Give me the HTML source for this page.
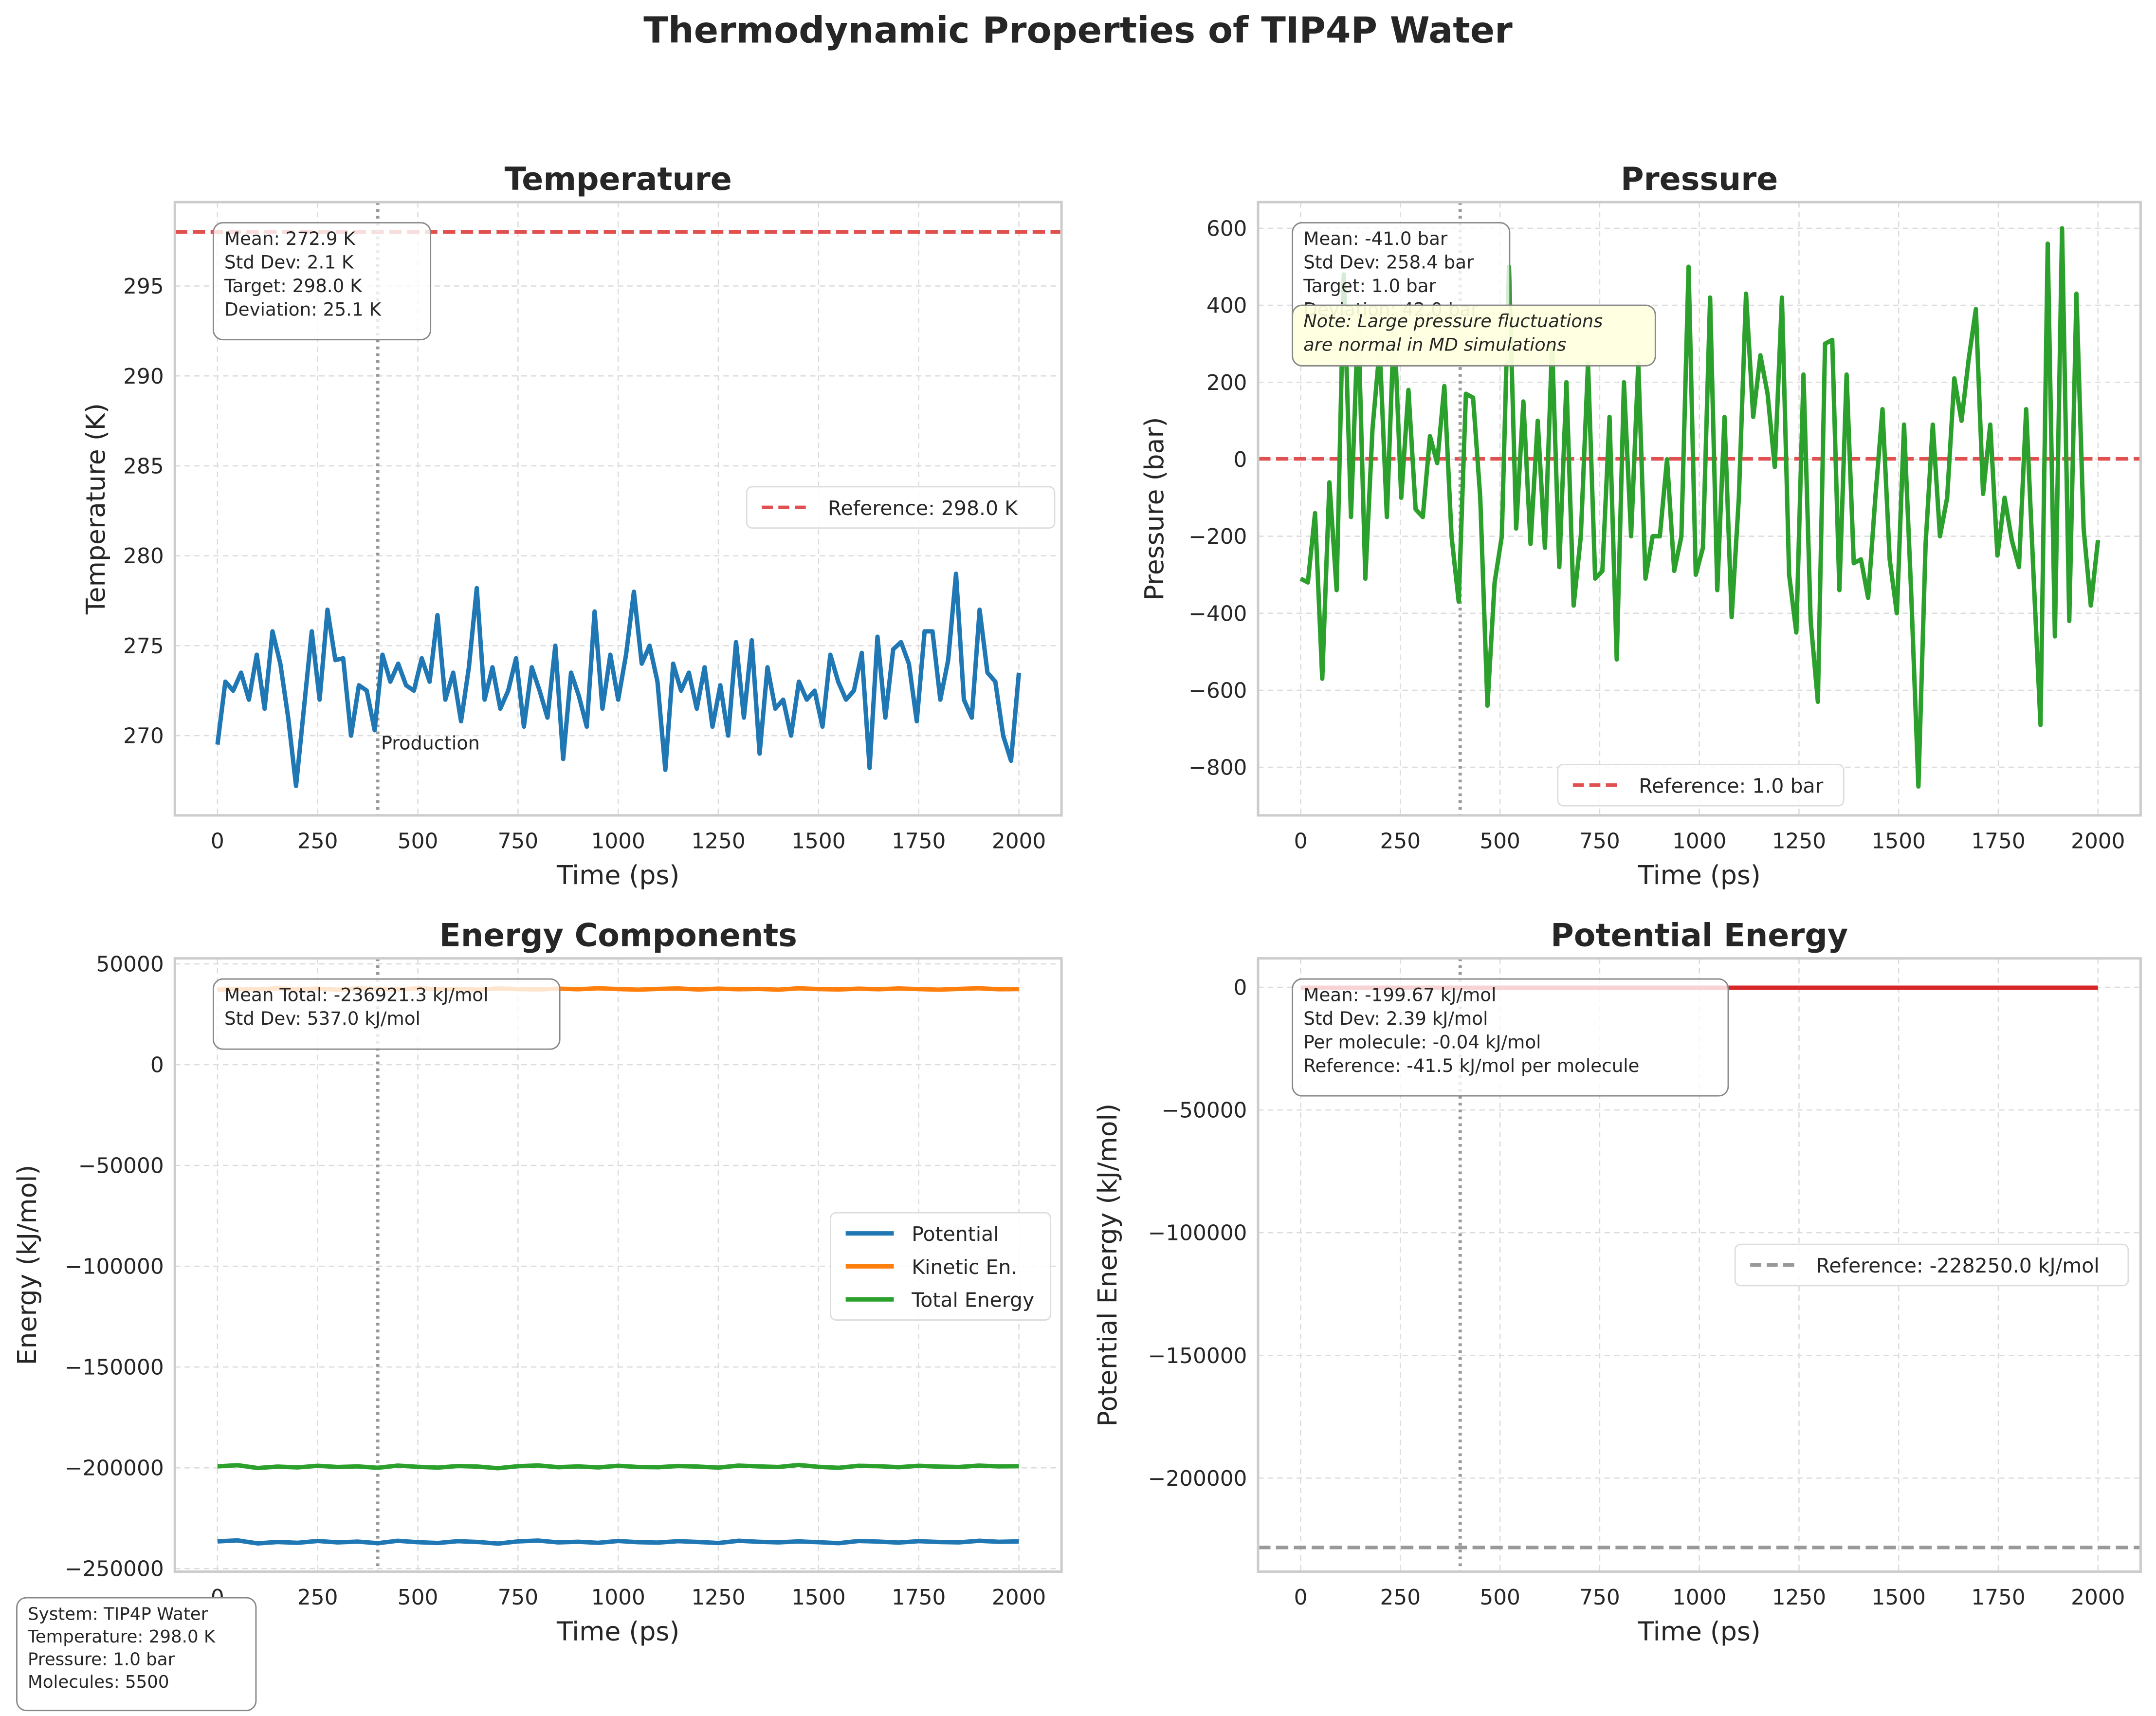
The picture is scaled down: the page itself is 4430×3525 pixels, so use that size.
<!DOCTYPE html>
<html><head><meta charset="utf-8"><style>
html,body{margin:0;padding:0;background:#fff}
svg{display:block;font-family:"DejaVu Sans","Liberation Sans",sans-serif}
</style></head><body>
<svg id="fig" width="4430" height="3525" viewBox="0 0 1568 1248" xmlns="http://www.w3.org/2000/svg">
<rect width="1568" height="1248" fill="#fff"/>
<text x="784" y="31" text-anchor="middle" font-size="26.3" font-weight="bold" fill="#262626">Thermodynamic Properties of TIP4P Water</text>
<g id="root"></g>
</svg>
<script>
// ---- data ----
const timeRange = [0, 2000];
const xTicks = [0,250,500,750,1000,1250,1500,1750,2000];
const tempValues = [269.5,273,272.5,273.5,272,274.5,271.5,275.8,274,271,267.2,271.5,275.8,272,277,274.2,274.3,270,272.8,272.5,270.3,274.5,273,274,272.8,272.5,274.3,273,276.7,272,273.5,270.8,273.8,278.2,272,273.8,271.5,272.5,274.3,270.5,273.8,272.5,271,275,268.7,273.5,272.2,270.5,276.9,271.5,274.5,272,274.5,278,274,275,273,268.1,274,272.5,273.5,271.5,273.8,270.5,272.8,270,275.2,271,275.3,269,273.8,271.5,272,270,273,272,272.5,270.5,274.5,273,272,272.5,274.6,268.2,275.5,271,274.8,275.2,274,270.8,275.8,275.8,272,274.2,279,272,271,277,273.5,273,270,268.6,273.5];
const tempTicks = [270,275,280,285,290,295];
const tempRef = 298.0;
const pressValues = [-310,-320,-140,-570,-60,-340,480,-150,370,-310,80,290,-150,360,-100,180,-130,-150,60,-10,190,-200,-370,170,160,-100,-640,-320,-200,500,-180,150,-220,100,-230,300,-280,200,-380,-200,250,-310,-290,110,-520,200,-200,250,-310,-200,-200,0,-290,-200,500,-300,-230,420,-340,110,-410,-100,430,110,270,170,-20,420,-300,-450,220,-420,-630,300,310,-340,220,-270,-260,-360,-100,130,-260,-400,90,-350,-850,-220,90,-200,-100,210,100,260,390,-90,90,-250,-100,-210,-280,130,-290,-690,560,-460,600,-420,430,-180,-380,-210];
const pressTicks = [-800,-600,-400,-200,0,200,400,600];
const pressRef = 1.0;
const potentialValues = [-236500,-236000,-237500,-236800,-237200,-236300,-237000,-236600,-237400,-236200,-236900,-237300,-236400,-236800,-237600,-236500,-236100,-237000,-236700,-237200,-236300,-236900,-237100,-236400,-236800,-237300,-236200,-236700,-237000,-236500,-236900,-237400,-236300,-236600,-237100,-236400,-236800,-237000,-236200,-236700,-236500];
const kineticValues = [37200,37600,37300,37900,37400,37700,37200,37800,37500,37300,37900,37400,37600,37200,37800,37500,37300,37700,37400,37900,37500,37200,37600,37800,37300,37700,37400,37600,37200,37900,37500,37300,37700,37400,37800,37500,37200,37600,37900,37400,37500];
const totalValues = [-199300,-198700,-200100,-199400,-199800,-199000,-199600,-199300,-200000,-198900,-199500,-199900,-199100,-199400,-200200,-199200,-198800,-199700,-199300,-199800,-199000,-199600,-199700,-199100,-199400,-199900,-198900,-199300,-199600,-198600,-199500,-200000,-199000,-199200,-199700,-199000,-199400,-199600,-198900,-199300,-199200];
const energyTicks = [-250000,-200000,-150000,-100000,-50000,0,50000];
const peValues = [-199,-200,-198,-201,-199,-200,-197,-202,-199,-200,-198,-201,-199,-200,-199,-198,-201,-200,-199,-200,-198];
const peTicks = [-200000,-150000,-100000,-50000,0];
const peRef = -228250.0;
const productionStart = 400;

const NS="http://www.w3.org/2000/svg";
const root=document.getElementById('root');
function el(tag,attrs,parent,txt){const e=document.createElementNS(NS,tag);for(const k in attrs)e.setAttribute(k,attrs[k]);if(txt!==undefined)e.textContent=txt;(parent||root).appendChild(e);return e;}
function fmt(v){return v<0?'\u2212'+Math.abs(v):String(v);}

function makeAxes(name,box,yDom,yTicks,title,ylabel,ylabX){
  const g=el('g',{});
  
  
  const [L,T,R,B]=box;
  const xs=v=>L+31+(v-timeRange[0])/(timeRange[1]-timeRange[0])*(R-L-62);
  const ys=v=>yDom.py0+(v-yDom.v0)/(yDom.v1-yDom.v0)*(yDom.py1-yDom.py0);
  const bg=el('rect',{x:L,y:T,width:R-L,height:B-T,fill:'#fff'},g);
  
  xTicks.forEach(t=>{const X=xs(t);
    const gl=el('line',{x1:X,x2:X,y1:T,y2:B,stroke:'#dcdcdc','stroke-width':0.9,'stroke-dasharray':'4,3'},g);
    
    const tl=el('text',{x:X,y:B+24,'text-anchor':'middle','font-size':15.5,fill:'#262626'},g,fmt(t));
    });
  yTicks.forEach(t=>{const Y=ys(t);
    const gl=el('line',{x1:L,x2:R,y1:Y,y2:Y,stroke:'#dcdcdc','stroke-width':0.9,'stroke-dasharray':'4,3'},g);
    
    const tl=el('text',{x:L-8,y:Y+5.5,'text-anchor':'end','font-size':15.5,fill:'#262626'},g,fmt(t));
    });
  const tt=el('text',{x:(L+R)/2,y:T-9,'text-anchor':'middle','font-size':23,'font-weight':'bold',fill:'#262626'},g,title);
  
  const xl=el('text',{x:(L+R)/2,y:B+50,'text-anchor':'middle','font-size':19,fill:'#262626'},g,'Time (ps)');
  
  const yl=el('text',{x:ylabX,y:(T+B)/2,'text-anchor':'middle','font-size':19,fill:'#262626',transform:`rotate(-90 ${ylabX} ${(T+B)/2})`},g,ylabel);
  
  return {g,xs,ys,L,T,R,B};
}
function frame(a){const f=el('rect',{x:a.L,y:a.T,width:a.R-a.L,height:a.B-a.T,fill:'none',stroke:'#cccccc','stroke-width':1.8},a.g);
  }
function series(a,vals,color,name,w){
  const n=vals.length;const pts=vals.map((v,i)=>{const t=timeRange[0]+i*(timeRange[1]-timeRange[0])/(n-1);return a.xs(t).toFixed(2)+','+a.ys(v).toFixed(2);}).join(' ');
  const p=el('polyline',{points:pts,fill:'none',stroke:color,'stroke-width':w||3.2,'stroke-linejoin':'round'},a.g);
  }
function hline(a,v,color,name){const l=el('line',{x1:a.L,x2:a.R,y1:a.ys(v),y2:a.ys(v),stroke:color,'stroke-width':2.6,'stroke-dasharray':'9,4'},a.g);
  }
function vprod(a){const X=a.xs(productionStart);const l=el('line',{x1:X,x2:X,y1:a.T,y2:a.B,stroke:'#999','stroke-width':2.4,'stroke-dasharray':'2,3'},a.g);
  }
function box(a,x,y,w,h,lines,opts){opts=opts||{};
  const g=el('g',{},a?a.g:root);
  
  el('rect',{x,y,width:w,height:h,rx:7,fill:opts.fill||'#fff','fill-opacity':opts.op||0.8,stroke:'#888','stroke-width':1},g);
  lines.forEach((s,i)=>{el('text',{x:x+8,y:y+16+i*(opts.lh||17.2),'font-size':opts.fs||13.2,fill:'#262626','font-style':opts.italic?'italic':'normal'},g,s);});
  return g;}
function legend(a,x,y,w,entries){
  const g=el('g',{},a.g);
  el('rect',{x,y,width:w,height:entries.length*24+6,rx:4,fill:'#fff','fill-opacity':0.85,stroke:'#ddd','stroke-width':1},g);
  entries.forEach((e,i)=>{const Y=y+16+i*24;
    const ln=el('line',{x1:x+11,x2:x+46,y1:Y-1,y2:Y-1,stroke:e.c,'stroke-width':e.dash?2.6:3.2,'stroke-dasharray':e.dash?'8,4':'none'},g);
    const t=el('text',{x:x+59,y:Y+4.5,'font-size':14.5,fill:'#262626'},g,e.t);
    });}

// Temperature
const aT=makeAxes('temperature-panel',[127,147,772,593],{v0:270,v1:295,py0:535,py1:208},tempTicks,'Temperature','Temperature (K)',76);
hline(aT,tempRef,'#e05050','temperature-reference-line');
vprod(aT);
series(aT,tempValues,'#1f77b4','temperature-series');
const prod=el('text',{x:277,y:545,'font-size':13.5,fill:'#262626'},aT.g,'Production');

frame(aT);
box(aT,155,162,158,85,['Mean: 272.9 K','Std Dev: 2.1 K','Target: 298.0 K','Deviation: 25.1 K']);
legend(aT,543,354,224,[{c:'#e05050',dash:1,t:'Reference: 298.0 K'}]);

// Pressure
const aP=makeAxes('pressure-panel',[915,147,1557,593],{v0:0,v1:600,py0:334,py1:166},pressTicks,'Pressure','Pressure (bar)',846);
hline(aP,pressRef,'#e05050','pressure-reference-line');
vprod(aP);
series(aP,pressValues,'#2ca02c','pressure-series');
frame(aP);
box(aP,940,162,158,104,['Mean: -41.0 bar','Std Dev: 258.4 bar','Target: 1.0 bar','Deviation: 42.0 bar']);
box(aP,940,222,264,44,['Note: Large pressure fluctuations','are normal in MD simulations'],{fill:'#ffffe0',op:0.92,italic:1,fs:13,lh:17,name:'note-box'});
legend(aP,1133,556,208,[{c:'#e05050',dash:1,t:'Reference: 1.0 bar'}]);

// Energy
const aE=makeAxes('energy-panel',[127,697,772,1143],{v0:0,v1:50000,py0:774.3,py1:701},energyTicks,'Energy Components','Energy (kJ/mol)',26);
vprod(aE);
series(aE,potentialValues,'#1f77b4','potential-series');
series(aE,kineticValues,'#ff7f0e','kinetic-series');
series(aE,totalValues,'#2ca02c','total-energy-series');
frame(aE);
box(aE,155,712,252,51,['Mean Total: -236921.3 kJ/mol','Std Dev: 537.0 kJ/mol']);
legend(aE,604,882,160,[{c:'#1f77b4',t:'Potential'},{c:'#ff7f0e',t:'Kinetic En.'},{c:'#2ca02c',t:'Total Energy'}]);

// Potential energy
const aU=makeAxes('potential-energy-panel',[915,697,1557,1143],{v0:0,v1:-200000,py0:718,py1:1075},peTicks,'Potential Energy','Potential Energy (kJ/mol)',812);
hline(aU,peRef,'#999999','potential-reference-line');
vprod(aU);
series(aU,peValues,'#d62728','potential-energy-series');
frame(aU);
box(aU,940,712,317,85,['Mean: -199.67 kJ/mol','Std Dev: 2.39 kJ/mol','Per molecule: -0.04 kJ/mol','Reference: -41.5 kJ/mol per molecule']);
legend(aU,1262,905,286,[{c:'#999999',dash:1,t:'Reference: -228250.0 kJ/mol'}]);

// System info
box(null,12,1162,174,82,['System: TIP4P Water','Temperature: 298.0 K','Pressure: 1.0 bar','Molecules: 5500'],{fs:12.6,lh:16.5,name:'system-info-box',op:1});
</script>
</body></html>
